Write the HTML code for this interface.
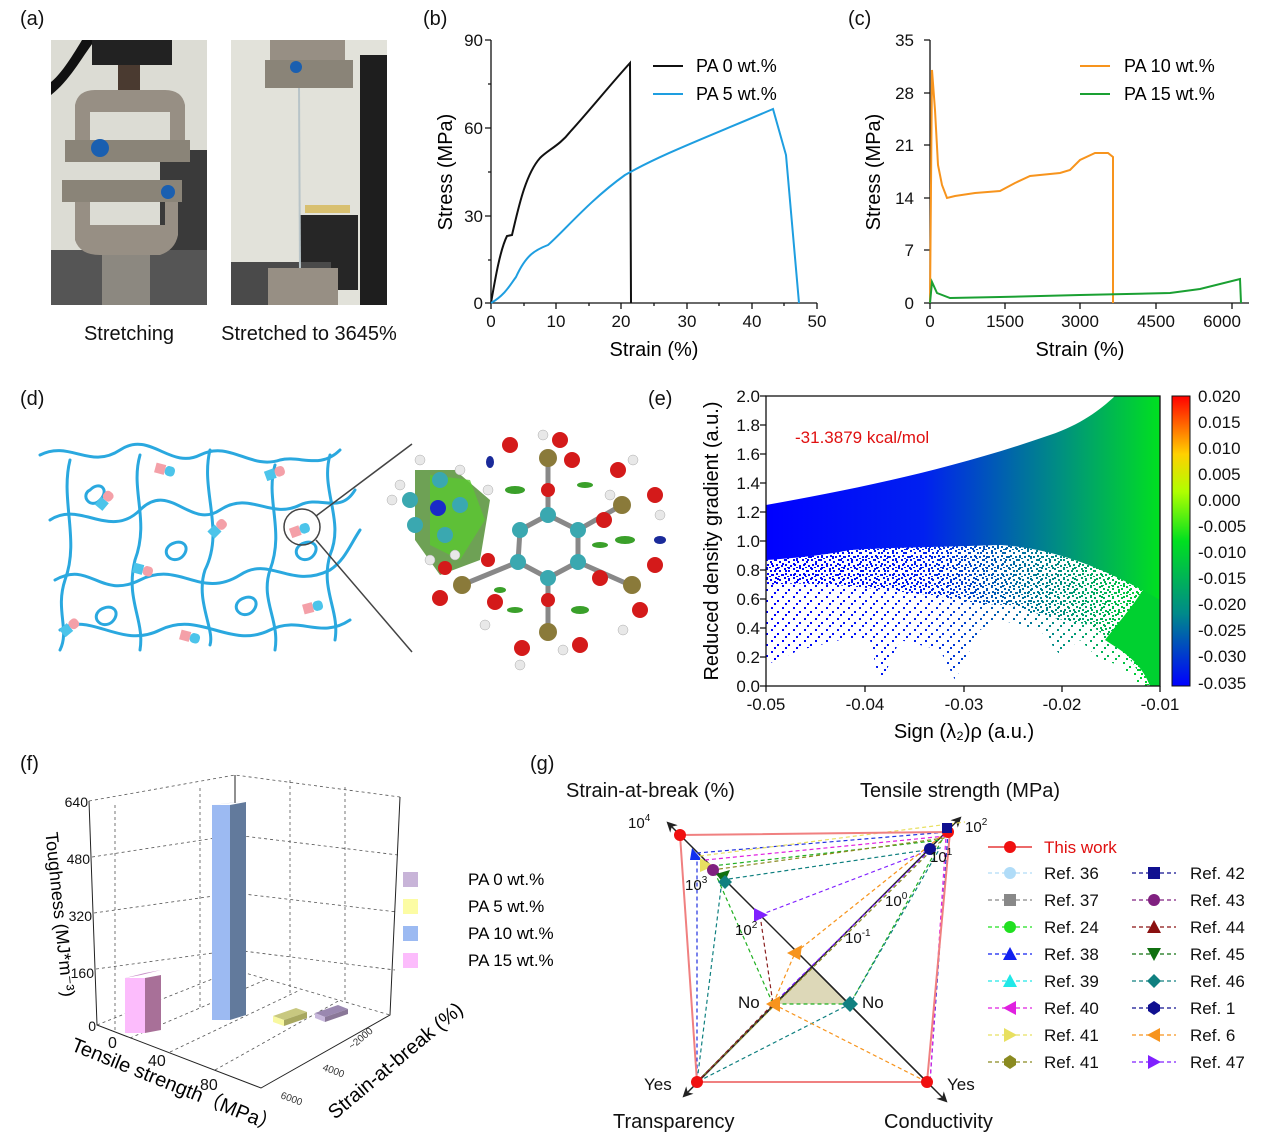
<!DOCTYPE html>
<html><head><meta charset="utf-8"><style>
html,body{margin:0;padding:0;background:#fff}
svg{display:block;font-family:"Liberation Sans",Arial,sans-serif}
</style></head><body>
<svg width="1269" height="1136" viewBox="0 0 1269 1136" xmlns="http://www.w3.org/2000/svg">
<defs>
<linearGradient id="bg" gradientUnits="userSpaceOnUse" x1="766" x2="1160" y1="0" y2="0"><stop offset="0" stop-color="#0000ff"/><stop offset="0.4" stop-color="#0020f0"/><stop offset="0.75" stop-color="#009080"/><stop offset="1" stop-color="#00e020"/></linearGradient>
<linearGradient id="cb" x1="0" x2="0" y1="0" y2="1"><stop offset="0" stop-color="#ff0000"/><stop offset="0.2" stop-color="#ffd000"/><stop offset="0.33" stop-color="#b0ff00"/><stop offset="0.5" stop-color="#00e020"/><stop offset="0.75" stop-color="#008a8a"/><stop offset="1" stop-color="#0000ff"/></linearGradient>
<pattern id="dd" width="9" height="9" patternUnits="userSpaceOnUse"><rect x="1" y="1" width="2" height="2" fill="#fff"/><rect x="5" y="3" width="2" height="2" fill="#fff"/><rect x="2" y="6" width="2" height="2" fill="#fff"/><rect x="7" y="7" width="2" height="2" fill="#fff"/><rect x="4" y="0" width="2" height="1" fill="#fff"/></pattern>
<pattern id="ds" width="11" height="11" patternUnits="userSpaceOnUse"><rect x="1" y="2" width="2" height="2" fill="#fff"/><rect x="7" y="6" width="2" height="2" fill="#fff"/><rect x="4" y="9" width="2" height="2" fill="#fff"/></pattern>
<mask id="md"><rect x="760" y="390" width="410" height="300" fill="url(#dd)"/></mask>
<mask id="ms"><rect x="760" y="390" width="410" height="300" fill="url(#ds)"/></mask>
<marker id="ar" viewBox="0 0 10 10" refX="8" refY="5" markerWidth="7" markerHeight="7" orient="auto"><path d="M0,0 L10,5 L0,10 L3,5z" fill="#222"/></marker>
</defs>
<g font-size="20" fill="#111">
<text x="20" y="25">(a)</text><text x="423" y="25">(b)</text><text x="848" y="25">(c)</text>
<text x="20" y="405">(d)</text><text x="648" y="405">(e)</text>
<text x="20" y="770">(f)</text><text x="530" y="770">(g)</text>
</g>
<!-- (a) photos -->
<rect x="51" y="40" width="156" height="265" fill="#dcdcd4"/>
<rect x="51" y="250" width="156" height="55" fill="#555"/>
<rect x="160" y="150" width="47" height="100" fill="#3a3a3a"/>
<path d="M51,95 C70,80 80,60 95,40 L82,40 C70,60 60,75 51,82z" fill="#111"/>
<rect x="92" y="40" width="80" height="25" fill="#222"/>
<rect x="118" y="65" width="22" height="25" fill="#4a3a30"/>
<path d="M75,160 L75,105 Q78,90 95,90 L165,90 Q182,90 185,105 L185,160 L170,160 L170,112 L90,112 L90,160z" fill="#978f84"/>
<rect x="65" y="140" width="125" height="22" fill="#8a8478"/>
<circle cx="100" cy="148" r="9" fill="#1a5fb0"/>
<path d="M75,185 L75,240 Q80,255 100,255 L160,255 Q175,250 178,235 L178,185 L165,185 L165,225 L90,225 L90,185z" fill="#978f84"/>
<rect x="62" y="180" width="120" height="22" fill="#8a8478"/>
<circle cx="168" cy="192" r="7" fill="#1a5fb0"/>
<rect x="102" y="255" width="48" height="50" fill="#8c8880"/>
<rect x="231" y="40" width="156" height="265" fill="#e2e2da"/>
<rect x="360" y="55" width="27" height="250" fill="#1e1e1e"/>
<rect x="300" y="215" width="58" height="75" fill="#262626"/>
<rect x="231" y="262" width="100" height="43" fill="#4a4a4a"/>
<rect x="270" y="40" width="75" height="25" fill="#978f84"/>
<rect x="265" y="60" width="88" height="28" fill="#8a8478"/>
<circle cx="296" cy="67" r="6" fill="#1a5fb0"/>
<line x1="299" y1="88" x2="300" y2="272" stroke="#b8c4c8" stroke-width="2"/>
<rect x="268" y="268" width="70" height="37" fill="#978f84"/>
<rect x="305" y="205" width="45" height="8" fill="#d8c070"/>
<g font-size="20" fill="#111" text-anchor="middle"><text x="129" y="340">Stretching</text><text x="309" y="340">Stretched to 3645%</text></g>

<!-- (b) -->
<g stroke="#111" stroke-width="1.3" fill="none">
<path d="M491,40 L491,303 L817,303"/>
<path d="M491,40h-6M491,128h-6M491,216h-6M491,303h-6M491,303v6M556,303v6M621,303v6M687,303v6M752,303v6M817,303v6"/>
<path d="M491,84h-3M491,172h-3M491,260h-3M524,303v3M589,303v3M654,303v3M719,303v3M784,303v3"/>
</g>
<g font-size="17" fill="#111" text-anchor="end"><text x="483" y="309">0</text><text x="483" y="222">30</text><text x="483" y="134">60</text><text x="483" y="46">90</text></g>
<g font-size="17" fill="#111" text-anchor="middle"><text x="491" y="327">0</text><text x="556" y="327">10</text><text x="621" y="327">20</text><text x="687" y="327">30</text><text x="752" y="327">40</text><text x="817" y="327">50</text></g>
<text x="654" y="356" font-size="20" text-anchor="middle">Strain (%)</text>
<text transform="translate(452,172) rotate(-90)" font-size="20" text-anchor="middle">Stress (MPa)</text>
<path d="M491,303 C495,280 500,250 507,236 L512,235 C518,210 525,175 540,158 C548,150 560,145 570,132 C590,110 610,85 630,63 L631,303" fill="none" stroke="#111" stroke-width="2"/>
<path d="M491,303 C505,295 510,285 516,277 C526,255 535,250 548,245 C565,230 590,200 625,175 C660,155 700,140 773,109 L786,155 L799,303" fill="none" stroke="#1e9ee0" stroke-width="2"/>
<line x1="653" y1="66" x2="683" y2="66" stroke="#111" stroke-width="2"/><text x="696" y="72" font-size="18">PA 0 wt.%</text>
<line x1="653" y1="94" x2="683" y2="94" stroke="#1e9ee0" stroke-width="2"/><text x="696" y="100" font-size="18">PA 5 wt.%</text>

<!-- (c) -->
<g stroke="#111" stroke-width="1.3" fill="none">
<path d="M930,40 L930,303 L1249,303"/>
<path d="M930,40h-6M930,93h-6M930,145h-6M930,198h-6M930,250h-6M930,303h-6M930,303v6M1005,303v6M1080,303v6M1156,303v6M1232,303v6"/>
</g>
<g font-size="17" fill="#111" text-anchor="end"><text x="914" y="309">0</text><text x="914" y="256">7</text><text x="914" y="204">14</text><text x="914" y="151">21</text><text x="914" y="99">28</text><text x="914" y="46">35</text></g>
<g font-size="17" fill="#111" text-anchor="middle"><text x="930" y="327">0</text><text x="1005" y="327">1500</text><text x="1080" y="327">3000</text><text x="1156" y="327">4500</text><text x="1222" y="327">6000</text></g>
<text x="1080" y="356" font-size="20" text-anchor="middle">Strain (%)</text>
<text transform="translate(880,172) rotate(-90)" font-size="20" text-anchor="middle">Stress (MPa)</text>
<path d="M930,303 L932,70 L935,110 L938,165 L942,185 L947,198 L955,196 L975,193 L1000,191 L1015,183 L1030,176 L1060,173 L1070,170 L1080,160 L1095,153 L1108,153 L1113,157 L1113,303" fill="none" stroke="#f7941d" stroke-width="2"/>
<path d="M930,303 L932,282 L937,293 L950,298 L1000,297 L1080,295 L1170,293 L1200,289 L1240,279 L1241,303" fill="none" stroke="#1aa032" stroke-width="2"/>
<line x1="1080" y1="66" x2="1110" y2="66" stroke="#f7941d" stroke-width="2"/><text x="1124" y="72" font-size="18">PA 10 wt.%</text>
<line x1="1080" y1="94" x2="1110" y2="94" stroke="#1aa032" stroke-width="2"/><text x="1124" y="100" font-size="18">PA 15 wt.%</text>

<!-- (d) network -->
<g fill="none" stroke="#2aa8df" stroke-width="3" stroke-linecap="round">
<path d="M40,455 C70,440 90,470 120,450 C150,430 170,470 200,455 C230,440 250,470 280,460 C300,455 320,470 340,450"/>
<path d="M50,520 C80,500 110,540 140,510 C170,480 190,530 220,510 C250,490 270,520 300,505 C320,495 340,515 355,490"/>
<path d="M55,580 C90,560 100,600 140,580 C180,560 200,600 240,575 C270,555 290,590 330,570 C345,560 350,545 360,530"/>
<path d="M60,630 C90,610 120,650 160,630 C200,610 230,650 270,630 C300,615 320,640 350,620"/>
<path d="M70,460 C60,500 80,540 65,580 C55,610 70,630 60,650"/>
<path d="M140,455 C130,490 150,520 135,560 C125,600 145,620 140,650"/>
<path d="M210,450 C200,490 225,530 205,570 C195,600 215,630 210,645"/>
<path d="M275,465 C265,500 285,530 270,570 C260,600 280,620 275,650"/>
<path d="M330,455 C320,490 345,520 330,555 C320,590 340,610 335,640"/>
<path d="M90,490 c10,-10 20,0 10,10 c-10,10 -20,-5 -10,-10"/>
<path d="M170,545 c12,-8 22,2 12,12 c-10,8 -22,-4 -12,-12"/>
<path d="M240,600 c12,-8 22,2 12,12 c-10,8 -22,-4 -12,-12"/>
<path d="M100,610 c12,-8 22,2 12,12 c-10,8 -22,-4 -12,-12"/>
<path d="M300,545 c12,-8 22,2 12,12 c-10,8 -22,-4 -12,-12"/>
</g>
<g stroke-width="0">
<g transform="translate(105,500) rotate(-50)"><rect x="-10" y="-5" width="10" height="10" fill="#4cc4ea"/><rect x="0" y="-5" width="10" height="10" rx="4" fill="#f4a0a8"/></g>
<g transform="translate(165,470) rotate(15)"><rect x="-10" y="-5" width="10" height="10" fill="#f4a0a8"/><rect x="0" y="-5" width="10" height="10" rx="4" fill="#4cc4ea"/></g>
<g transform="translate(275,473) rotate(-20)"><rect x="-10" y="-5" width="10" height="10" fill="#4cc4ea"/><rect x="0" y="-5" width="10" height="10" rx="4" fill="#f4a0a8"/></g>
<g transform="translate(218,528) rotate(-45)"><rect x="-10" y="-5" width="10" height="10" fill="#4cc4ea"/><rect x="0" y="-5" width="10" height="10" rx="4" fill="#f4a0a8"/></g>
<g transform="translate(143,570) rotate(15)"><rect x="-10" y="-5" width="10" height="10" fill="#4cc4ea"/><rect x="0" y="-5" width="10" height="10" rx="4" fill="#f4a0a8"/></g>
<g transform="translate(300,530) rotate(-20)"><rect x="-10" y="-5" width="10" height="10" fill="#f4a0a8"/><rect x="0" y="-5" width="10" height="10" rx="4" fill="#4cc4ea"/></g>
<g transform="translate(313,607) rotate(-15)"><rect x="-10" y="-5" width="10" height="10" fill="#f4a0a8"/><rect x="0" y="-5" width="10" height="10" rx="4" fill="#4cc4ea"/></g>
<g transform="translate(70,627) rotate(-40)"><rect x="-10" y="-5" width="10" height="10" fill="#4cc4ea"/><rect x="0" y="-5" width="10" height="10" rx="4" fill="#f4a0a8"/></g>
<g transform="translate(190,637) rotate(15)"><rect x="-10" y="-5" width="10" height="10" fill="#f4a0a8"/><rect x="0" y="-5" width="10" height="10" rx="4" fill="#4cc4ea"/></g>
</g>
<circle cx="302" cy="527" r="18" fill="none" stroke="#444" stroke-width="1.5"/>
<line x1="316" y1="516" x2="412" y2="444" stroke="#444" stroke-width="1.5"/>
<line x1="316" y1="540" x2="412" y2="652" stroke="#444" stroke-width="1.5"/>
<!-- molecule -->
<g>
<path d="M415,470 L455,470 L490,500 L480,560 L440,575 L415,540z" fill="#4a8a2a" opacity="0.8"/>
<path d="M430,475 L470,480 L485,520 L460,560 L430,545z" fill="#5ac830" opacity="0.8"/>
<g stroke="#888" stroke-width="5">
<line x1="520" y1="530" x2="548" y2="515"/><line x1="548" y1="515" x2="578" y2="530"/><line x1="578" y1="530" x2="578" y2="562"/><line x1="578" y1="562" x2="548" y2="578"/><line x1="548" y1="578" x2="518" y2="562"/><line x1="518" y1="562" x2="520" y2="530"/>
<line x1="548" y1="578" x2="548" y2="630"/><line x1="578" y1="562" x2="630" y2="585"/><line x1="578" y1="530" x2="622" y2="505"/><line x1="518" y1="562" x2="462" y2="585"/><line x1="548" y1="515" x2="548" y2="460"/>
</g>
<g fill="#3aa8b0"><circle cx="520" cy="530" r="8"/><circle cx="548" cy="515" r="8"/><circle cx="578" cy="530" r="8"/><circle cx="578" cy="562" r="8"/><circle cx="548" cy="578" r="8"/><circle cx="518" cy="562" r="8"/><circle cx="410" cy="500" r="8"/><circle cx="440" cy="480" r="8"/><circle cx="415" cy="525" r="8"/><circle cx="460" cy="505" r="8"/><circle cx="445" cy="535" r="8"/></g>
<circle cx="438" cy="508" r="8" fill="#1a2ac8"/>
<g fill="#8a7a3a"><circle cx="548" cy="458" r="9"/><circle cx="622" cy="505" r="9"/><circle cx="632" cy="585" r="9"/><circle cx="548" cy="632" r="9"/><circle cx="462" cy="585" r="9"/></g>
<g fill="#d41a1a"><circle cx="510" cy="445" r="8"/><circle cx="560" cy="440" r="8"/><circle cx="572" cy="460" r="8"/><circle cx="548" cy="490" r="7"/><circle cx="618" cy="470" r="8"/><circle cx="655" cy="495" r="8"/><circle cx="604" cy="520" r="8"/><circle cx="600" cy="578" r="8"/><circle cx="655" cy="565" r="8"/><circle cx="640" cy="610" r="8"/><circle cx="548" cy="600" r="7"/><circle cx="522" cy="648" r="8"/><circle cx="580" cy="645" r="8"/><circle cx="440" cy="598" r="8"/><circle cx="495" cy="602" r="8"/><circle cx="445" cy="568" r="7"/><circle cx="488" cy="560" r="7"/></g>
<g fill="#e8e8e8" stroke="#aaa" stroke-width="0.5"><circle cx="543" cy="435" r="5"/><circle cx="633" cy="460" r="5"/><circle cx="660" cy="515" r="5"/><circle cx="623" cy="630" r="5"/><circle cx="563" cy="650" r="5"/><circle cx="520" cy="665" r="5"/><circle cx="485" cy="625" r="5"/><circle cx="392" cy="500" r="5"/><circle cx="400" cy="485" r="5"/><circle cx="420" cy="460" r="5"/><circle cx="460" cy="470" r="5"/><circle cx="488" cy="490" r="5"/><circle cx="455" cy="555" r="5"/><circle cx="610" cy="495" r="5"/><circle cx="430" cy="560" r="5"/></g>
<g fill="#3aa02a"><ellipse cx="515" cy="490" rx="10" ry="4"/><ellipse cx="600" cy="545" rx="8" ry="3"/><ellipse cx="625" cy="540" rx="10" ry="4"/><ellipse cx="580" cy="610" rx="9" ry="4"/><ellipse cx="515" cy="610" rx="8" ry="3"/><ellipse cx="500" cy="590" rx="6" ry="3"/><ellipse cx="585" cy="485" rx="8" ry="3"/></g>
<ellipse cx="490" cy="462" rx="4" ry="6" fill="#1a2a9a"/><ellipse cx="660" cy="540" rx="6" ry="4" fill="#1a2a9a"/>
</g>

<!-- (e) -->
<path d="M766,557 C800,556 830,552 850,548 C900,545 950,545 1000,543 C1050,545 1100,560 1160,600 L1160,686 L1140,686 L1120,665 L1100,660 L1080,640 L1060,655 L1040,630 L1000,620 L980,630 L955,680 L940,650 L900,640 L880,685 L870,640 L840,640 L800,650 L766,665z" fill="url(#bg)" mask="url(#ms)"/>
<path d="M766,557 C800,556 830,552 850,548 C900,545 950,545 1000,543 C1050,545 1100,560 1160,600 L1160,686 L1145,686 C1130,650 1110,640 1090,625 C1060,620 1040,615 1010,605 C980,605 960,600 930,595 C880,590 820,580 766,585z" fill="url(#bg)" mask="url(#md)"/>
<path d="M1160,560 L1160,686 L1150,686 C1140,660 1120,650 1105,640 C1120,620 1140,600 1160,560z" fill="#00d030"/>
<path d="M766,505 C850,490 950,470 1050,435 C1080,425 1100,410 1115,396 L1160,396 L1160,600 C1100,565 1050,548 1000,545 C950,547 900,547 850,550 C830,554 800,558 766,560z" fill="url(#bg)"/>
<g stroke="#111" stroke-width="1.3" fill="none">
<rect x="766" y="396" width="394" height="290"/>
<path d="M766,396h-6M766,425h-6M766,454h-6M766,483h-6M766,512h-6M766,541h-6M766,570h-6M766,599h-6M766,628h-6M766,657h-6M766,686h-6"/>
<path d="M766,686v6M865,686v6M964,686v6M1062,686v6M1160,686v6"/>
</g>
<g font-size="17" fill="#111" text-anchor="end">
<text x="760" y="692">0.0</text><text x="760" y="663">0.2</text><text x="760" y="634">0.4</text><text x="760" y="605">0.6</text><text x="760" y="576">0.8</text><text x="760" y="547">1.0</text><text x="760" y="518">1.2</text><text x="760" y="489">1.4</text><text x="760" y="460">1.6</text><text x="760" y="431">1.8</text><text x="760" y="402">2.0</text></g>
<g font-size="17" fill="#111" text-anchor="middle"><text x="766" y="710">-0.05</text><text x="865" y="710">-0.04</text><text x="964" y="710">-0.03</text><text x="1062" y="710">-0.02</text><text x="1160" y="710">-0.01</text></g>
<text x="964" y="738" font-size="20" text-anchor="middle">Sign (λ₂)ρ (a.u.)</text>
<text transform="translate(718,541) rotate(-90)" font-size="20" text-anchor="middle">Reduced density gradient (a.u.)</text>
<text x="795" y="443" font-size="17" fill="#e01010">-31.3879 kcal/mol</text>
<rect x="1172" y="396" width="18" height="290" fill="url(#cb)" stroke="#111" stroke-width="1"/>
<g font-size="17" fill="#111"><text x="1198" y="402">0.020</text><text x="1198" y="428">0.015</text><text x="1198" y="454">0.010</text><text x="1198" y="480">0.005</text><text x="1198" y="506">0.000</text><text x="1198" y="532">-0.005</text><text x="1198" y="558">-0.010</text><text x="1198" y="584">-0.015</text><text x="1198" y="610">-0.020</text><text x="1198" y="636">-0.025</text><text x="1198" y="662">-0.030</text><text x="1198" y="689">-0.035</text></g>

<!-- (f) 3D -->
<g stroke="#555" stroke-width="0.8" fill="none" stroke-dasharray="3,3">
<path d="M89,801 L235,775 L400,797"/><path d="M235,775 L235,970"/>
<path d="M92,857 L235,835 L398,855 M94,913 L235,893 L397,912 M96,969 L235,950 L395,970"/>
<path d="M97,1025 L235,970 L390,1015"/>
<path d="M130,1038 L265,980 M170,1052 L300,990 M215,1070 L340,1000"/>
<path d="M115,805 L115,1030 M200,788 L200,1010 M290,780 L290,995 M345,787 L345,1003"/>
</g>
<path d="M89,801 L97,1025 L261,1088 L390,1015 L400,797" fill="none" stroke="#222" stroke-width="1"/>
<path d="M235,775 L235,803" stroke="#222"/>
<g font-size="14" fill="#111" text-anchor="end"><text x="88" y="807">640</text><text x="90" y="864">480</text><text x="92" y="921">320</text><text x="94" y="978">160</text><text x="96" y="1031">0</text></g>
<text transform="translate(54,915) rotate(84)" font-size="18" text-anchor="middle">Toughness (MJ*m⁻³)</text>
<g font-size="16" fill="#111"><text x="108" y="1048">0</text><text x="148" y="1066">40</text><text x="200" y="1090">80</text></g>
<text transform="translate(70,1050) rotate(22)" font-size="20">Tensile strength（MPa）</text>
<text transform="translate(335,1120) rotate(-40)" font-size="20">Strain-at-break (%)</text>
<g font-size="10" fill="#333"><text transform="translate(280,1098) rotate(20)">6000</text><text transform="translate(322,1070) rotate(20)">4000</text><text transform="translate(352,1050) rotate(-40)">~2000</text></g>
<!-- bars -->
<path d="M125,978 L145,973 L161,970 L141,975z" fill="#c890c8"/>
<rect x="125" y="978" width="20" height="55" fill="#fcbcfc"/>
<path d="M145,978 L161,975 L161,1030 L145,1033z" fill="#a87098"/>
<path d="M212,805 L229,803 L246,801 L230,803z" fill="#7e94c8"/>
<rect x="212" y="805" width="18" height="215" fill="#9cbaf2"/>
<path d="M230,805 L246,802 L246,1015 L230,1020z" fill="#627a9c"/>
<path d="M273,1016 L296,1008 L307,1012 L284,1020z" fill="#c8c880"/><path d="M273,1016 L284,1020 L284,1026 L273,1022z" fill="#f8f8a0"/><path d="M284,1020 L307,1012 L307,1018 L284,1026z" fill="#a8a860"/>
<path d="M315,1013 L338,1005 L348,1009 L325,1017z" fill="#9a88b0"/><path d="M315,1013 L325,1017 L325,1022 L315,1018z" fill="#c8b8dc"/><path d="M325,1017 L348,1009 L348,1014 L325,1022z" fill="#8a7898"/>
<rect x="403" y="872" width="15" height="15" fill="#c8b4d8"/><text x="468" y="885" font-size="17">PA 0 wt.%</text>
<rect x="403" y="899" width="15" height="15" fill="#fcfca4"/><text x="468" y="912" font-size="17">PA 5 wt.%</text>
<rect x="403" y="926" width="15" height="15" fill="#9cbaf2"/><text x="468" y="939" font-size="17">PA 10 wt.%</text>
<rect x="403" y="953" width="15" height="15" fill="#fcbcfc"/><text x="468" y="966" font-size="17">PA 15 wt.%</text>

<!-- (g) radar -->
<path d="M773,1004 L850,1004 L812,967z" fill="#ddd8b8"/>
<g stroke="#222" stroke-width="1.5"><line x1="697" y1="1082" x2="960" y2="818" marker-end="url(#ar)"/><line x1="927" y1="1082" x2="668" y2="823" marker-end="url(#ar)"/><line x1="812" y1="967" x2="684" y2="1096" marker-end="url(#ar)"/><line x1="812" y1="967" x2="946" y2="1101" marker-end="url(#ar)"/></g>
<g fill="none" stroke-width="1.2" stroke-dasharray="4,3">
<path d="M697,853 L948,832 L930,1082 L697,1082z" stroke="#2030e0"/>
<path d="M712,866 L942,840 L850,1004 L773,1004z" stroke="#20b020"/>
<path d="M722,880 L940,848 L850,1004 L697,1082z" stroke="#108080"/>
<path d="M760,915 L930,850 L773,1004" stroke="#8020ff"/>
<path d="M773,1004 L795,953 L945,833 M773,1004 L927,1082" stroke="#f7941d"/>
<path d="M705,860 L946,836 L930,1082" stroke="#e020e0"/>
<path d="M700,856 L965,822" stroke="#e8e060"/>
<path d="M712,870 L944,838 L697,1082" stroke="#8a8a20"/>
<path d="M760,915 L773,1004 L697,1082" stroke="#8a2020"/>
</g>
<path d="M680,835 L950,832 L927,1082 L697,1082z" fill="none" stroke="#f08080" stroke-width="2"/>
<g>
<circle cx="680" cy="835" r="6" fill="#f01010"/><circle cx="948" cy="832" r="6" fill="#f01010"/><circle cx="927" cy="1082" r="6" fill="#f01010"/><circle cx="697" cy="1082" r="6" fill="#f01010"/>
<rect x="942" y="823" width="10" height="10" fill="#101090"/>
<circle cx="930" cy="849" r="6" fill="#101090"/>
<path d="M692,848 L702,860 L690,860z" fill="#1030f0"/>
<path d="M700,858 L714,866 L700,872z" fill="#e8e060"/>
<circle cx="713" cy="870" r="6" fill="#802080"/>
<path d="M716,874 L730,870 L724,884z" fill="#107010"/>
<path d="M725,875 L732,882 L725,889 L718,882z" fill="#108080"/>
<path d="M754,908 L768,915 L754,922z" fill="#8020ff"/>
<path d="M787,953 L802,945 L800,960z" fill="#f7941d"/>
<path d="M766,1004 L780,996 L780,1012z" fill="#f7941d"/>
<path d="M850,996 L858,1004 L850,1012 L842,1004z" fill="#108080"/>
</g>
<g font-size="15" fill="#111"><text x="628" y="828">10<tspan font-size="10" dy="-7">4</tspan></text><text x="965" y="832">10<tspan font-size="10" dy="-7">2</tspan></text><text x="685" y="890">10<tspan font-size="10" dy="-7">3</tspan></text><text x="930" y="862">10<tspan font-size="10" dy="-7">1</tspan></text><text x="735" y="935">10<tspan font-size="10" dy="-7">2</tspan></text><text x="885" y="906">10<tspan font-size="10" dy="-7">0</tspan></text><text x="845" y="943">10<tspan font-size="10" dy="-7">-1</tspan></text></g>
<g font-size="17" fill="#111"><text x="738" y="1008">No</text><text x="862" y="1008">No</text><text x="644" y="1090">Yes</text><text x="947" y="1090">Yes</text></g>
<g font-size="20" fill="#111"><text x="566" y="797">Strain-at-break (%)</text><text x="860" y="797">Tensile strength (MPa)</text><text x="613" y="1128">Transparency</text><text x="884" y="1128">Conductivity</text></g>
<!-- legend g -->
<line x1="988" y1="847" x2="1032" y2="847" stroke="#e01010" stroke-width="1.2"/><circle cx="1010" cy="847" r="6" fill="#f01010"/><text x="1044" y="853" font-size="17" fill="#e01010">This work</text>
<g font-size="17" fill="#111" stroke-width="1.2" stroke-dasharray="4,3">
<g transform="translate(0,873)"><line x1="988" x2="1032" stroke="#b0dcf8"/><circle cx="1010" r="6" fill="#b0dcf8"/><text x="1044" y="6" stroke="none">Ref. 36</text></g>
<g transform="translate(0,900)"><line x1="988" x2="1032" stroke="#888"/><rect x="1004" y="-6" width="12" height="12" fill="#888"/><text x="1044" y="6" stroke="none">Ref. 37</text></g>
<g transform="translate(0,927)"><line x1="988" x2="1032" stroke="#20e020"/><circle cx="1010" r="6" fill="#20e020"/><text x="1044" y="6" stroke="none">Ref. 24</text></g>
<g transform="translate(0,954)"><line x1="988" x2="1032" stroke="#1020f0"/><path d="M1003,6 L1010,-7 L1017,6z" fill="#1020f0" stroke="none"/><text x="1044" y="6" stroke="none">Ref. 38</text></g>
<g transform="translate(0,981)"><line x1="988" x2="1032" stroke="#20e8e8"/><path d="M1003,6 L1010,-7 L1017,6z" fill="#20e8e8" stroke="none"/><text x="1044" y="6" stroke="none">Ref. 39</text></g>
<g transform="translate(0,1008)"><line x1="988" x2="1032" stroke="#e020e0"/><path d="M1016,-7 L1003,0 L1016,7z" fill="#e020e0" stroke="none"/><text x="1044" y="6" stroke="none">Ref. 40</text></g>
<g transform="translate(0,1035)"><line x1="988" x2="1032" stroke="#e8e060"/><path d="M1004,-7 L1017,0 L1004,7z" fill="#e8e060" stroke="none"/><text x="1044" y="6" stroke="none">Ref. 41</text></g>
<g transform="translate(0,1062)"><line x1="988" x2="1032" stroke="#8a8a20"/><path d="M1010,-7 L1016,-3 L1016,3 L1010,7 L1004,3 L1004,-3z" fill="#8a8a20" stroke="none"/><text x="1044" y="6" stroke="none">Ref. 41</text></g>
<g transform="translate(0,873)"><line x1="1132" x2="1176" stroke="#101090"/><rect x="1148" y="-6" width="12" height="12" fill="#101090"/><text x="1190" y="6" stroke="none">Ref. 42</text></g>
<g transform="translate(0,900)"><line x1="1132" x2="1176" stroke="#802080"/><circle cx="1154" r="6" fill="#802080"/><text x="1190" y="6" stroke="none">Ref. 43</text></g>
<g transform="translate(0,927)"><line x1="1132" x2="1176" stroke="#8a1010"/><path d="M1147,6 L1154,-7 L1161,6z" fill="#8a1010" stroke="none"/><text x="1190" y="6" stroke="none">Ref. 44</text></g>
<g transform="translate(0,954)"><line x1="1132" x2="1176" stroke="#107010"/><path d="M1147,-6 L1161,-6 L1154,7z" fill="#107010" stroke="none"/><text x="1190" y="6" stroke="none">Ref. 45</text></g>
<g transform="translate(0,981)"><line x1="1132" x2="1176" stroke="#108080"/><path d="M1154,-7 L1161,0 L1154,7 L1147,0z" fill="#108080" stroke="none"/><text x="1190" y="6" stroke="none">Ref. 46</text></g>
<g transform="translate(0,1008)"><line x1="1132" x2="1176" stroke="#101090"/><path d="M1154,-7 L1160,-3 L1160,3 L1154,7 L1148,3 L1148,-3z" fill="#101090" stroke="none"/><text x="1190" y="6" stroke="none">Ref. 1</text></g>
<g transform="translate(0,1035)"><line x1="1132" x2="1176" stroke="#f7941d"/><path d="M1160,-7 L1147,0 L1160,7z" fill="#f7941d" stroke="none"/><text x="1190" y="6" stroke="none">Ref. 6</text></g>
<g transform="translate(0,1062)"><line x1="1132" x2="1176" stroke="#8020ff"/><path d="M1148,-7 L1161,0 L1148,7z" fill="#8020ff" stroke="none"/><text x="1190" y="6" stroke="none">Ref. 47</text></g>
</g>
</svg>
</body></html>
